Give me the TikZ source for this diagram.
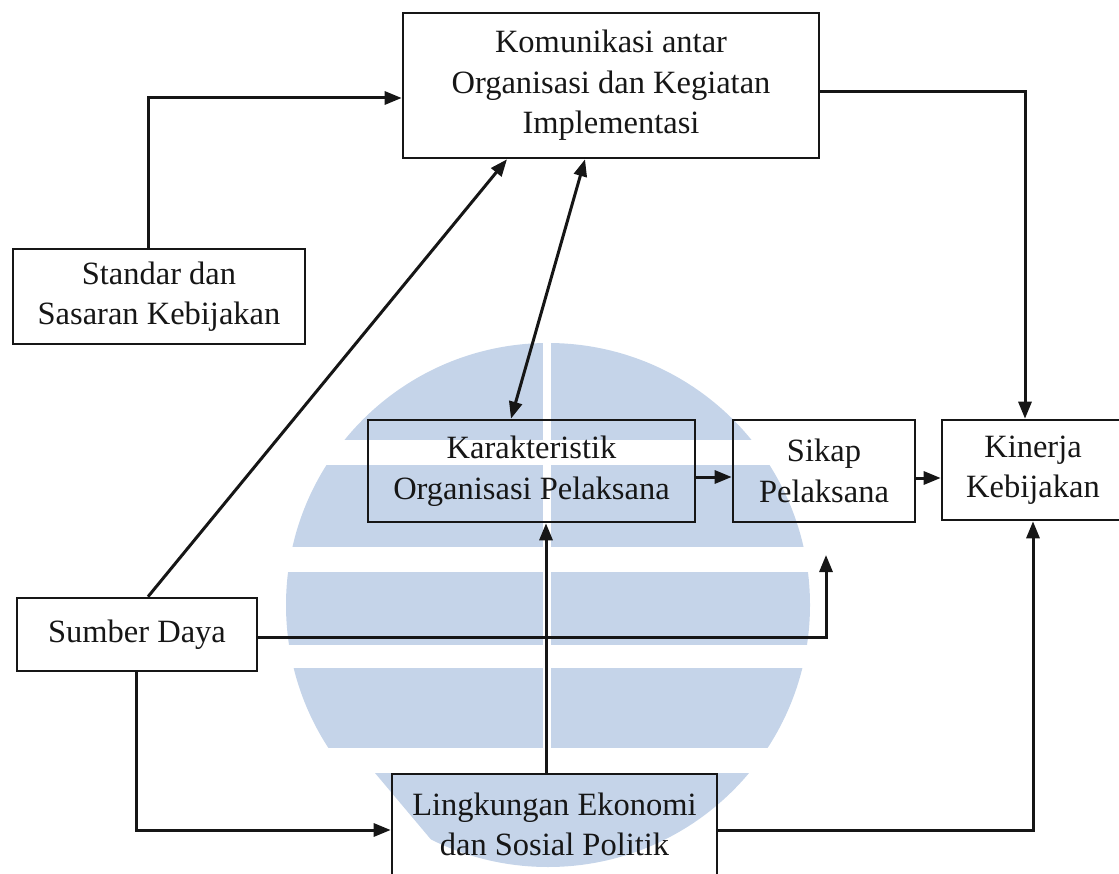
\documentclass[tikz,border=0pt]{standalone}
\usepackage{fontspec}
\setmainfont{Liberation Serif}
\usetikzlibrary{arrows.meta,calc}
\definecolor{wm}{RGB}{197,212,233}
\definecolor{ink}{RGB}{22,22,22}
\begin{document}
\begin{tikzpicture}[x=1pt,y=-1pt,
  box/.style={draw=ink,line width=2.6pt,rectangle,inner sep=0pt,align=center,
    font=\fontsize{32.5}{40.5}\selectfont,text=ink},
  conn/.style={draw=ink,line width=3pt},
  arr/.style={conn,-{Triangle[length=17pt,width=13pt]}},
  darr/.style={conn,{Triangle[length=17pt,width=13pt]}-{Triangle[length=17pt,width=13pt]}}]
\path[use as bounding box] (0,0) rectangle (1119,874);
\begin{scope}
\clip (0,0) rectangle (1119,874);
% watermark
\begin{scope}
  \clip (548,605) circle (262pt);
  \fill[wm] (0,330) rectangle (1119,440);
  \fill[wm] (0,465) rectangle (1119,547);
  \fill[wm] (0,572) rectangle (1119,645);
  \fill[wm] (0,668) rectangle (1119,748);
  \fill[wm] (375,773) -- (775,773) -- (735,874) -- (460,874) -- cycle;
  \fill[white] (543,300) rectangle (551,748);
\end{scope}
% boxes
\node[box,minimum width=416pt,minimum height=145pt] (kom) at (611,85.5) {Komunikasi antar\\Organisasi dan Kegiatan\\Implementasi};
\node[box,minimum width=292pt,minimum height=95pt] (std) at (159,296.5) {Standar dan\\Sasaran Kebijakan};
\node[box,minimum width=327pt,minimum height=102pt] (kar) at (531.5,471) {Karakteristik\\Organisasi Pelaksana};
\node[box,minimum width=182pt,minimum height=102pt] (sik) at (824,471) {Sikap\\Pelaksana};
\node[box,minimum width=182pt,minimum height=100pt] (kin) at (1033,470) {Kinerja\\Kebijakan};
\node[box,minimum width=240pt,minimum height=73pt] (sum) at (137,634.5) {Sumber Daya};
\node[box,minimum width=325pt,minimum height=101pt] (lin) at (554.5,824.5) {Lingkungan Ekonomi\\dan Sosial Politik};
\coordinate (sp) at (826,555);
% connectors
\draw[arr] (std.north -| 148,0) |- (kom.west |- 0,98);
\draw[arr] (kom.east |- 0,92) -| (kin.north -| 1025,0);
\draw[arr] (sum.north -| 148,0) -- (kom.south -| 507,0);
\draw[darr] (kar.north -| 511,0) -- (kom.south -| 585,0);
\draw[arr] (kar.east |- 0,477) -- (sik.west |- 0,477);
\draw[arr] (sik.east |- 0,478) -- (kin.west |- 0,478);
\draw[arr] (sum.east |- 0,637) -| (sp);
\draw[arr] (sum.south -| 136,0) |- (lin.west |- 0,830);
\draw[arr] (lin.north -| 546,0) -- (kar.south -| 546,0);
\draw[arr] (lin.east |- 0,830) -| (kin.south -| 1033,0);
\end{scope}
\end{tikzpicture}
\end{document}
